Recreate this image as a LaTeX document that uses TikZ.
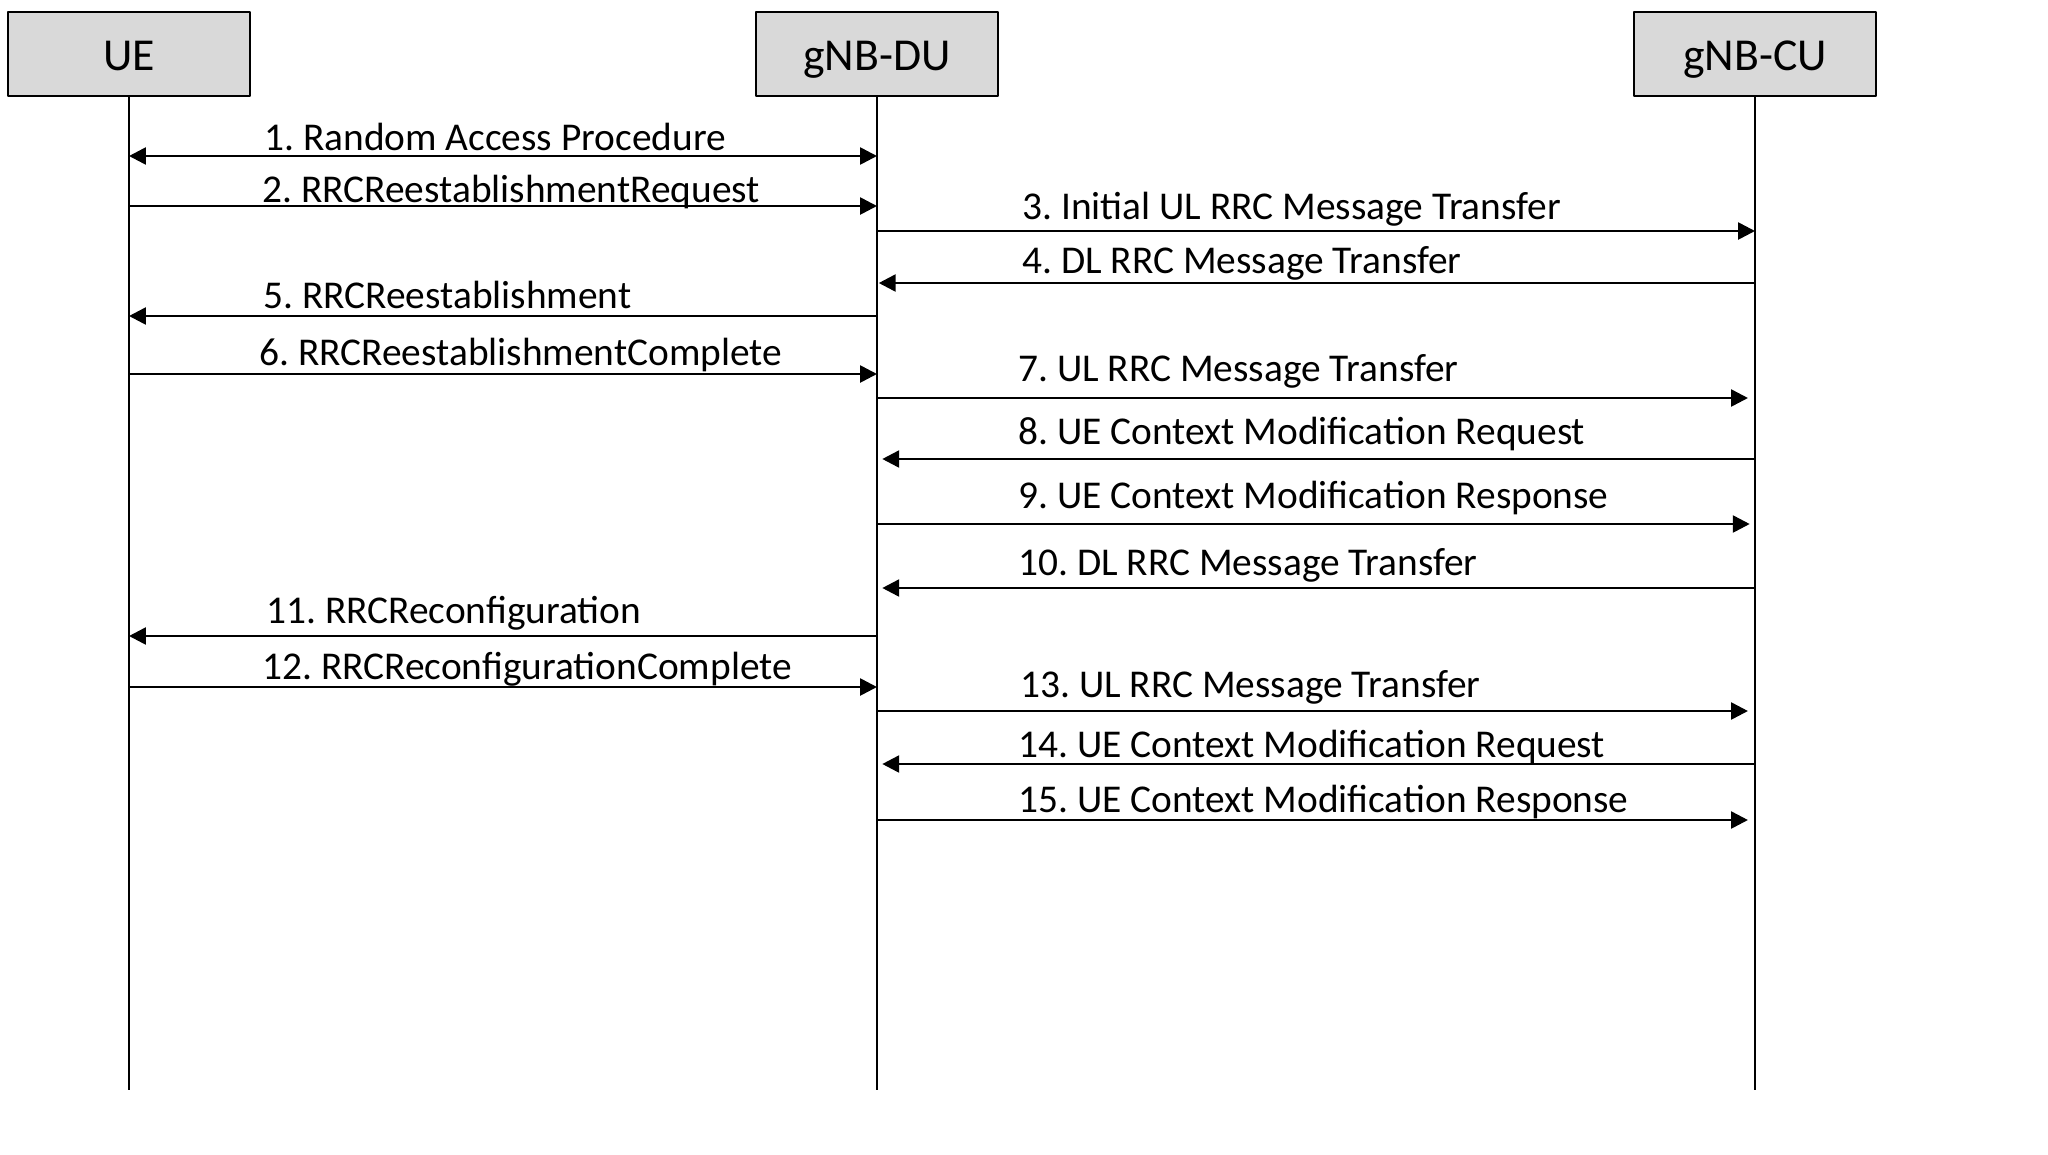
\documentclass[tikz,border=0pt]{standalone}
\usepackage{fontspec}
\setmainfont{Carlito}
\usetikzlibrary{arrows.meta}
\definecolor{boxgray}{HTML}{D9D9D9}
\frenchspacing
\begin{document}
\begin{tikzpicture}[x=0.01cm, y=-0.01cm, line width=0.75pt, font=\fontsize{11.2}{13}\selectfont, line join=round, >={Triangle[length=4.8pt,width=4.8pt]},
	box/.style={draw, line width=0.8pt, fill=boxgray, minimum width=2.42cm, minimum height=0.84cm, inner sep=0pt, text height=0.42cm, text depth=0.1cm, font=\fontsize{13}{15}\selectfont},
	lifeline/.style={line width=0.55pt},
	lbl/.style={anchor=base west, inner sep=0pt}]
	\useasboundingbox (0,0) rectangle (2048,1154);
	%% cac thuc the
	\node[box] (ue) at (129,54) {UE};
	\node[box] (du) at (877,54) {gNB-DU};
	\node[box] (cu) at (1755,54) {gNB-CU};
	
	%% duong song
	\foreach \p in {ue,du,cu}
	\draw[lifeline] (\p.south) -- (\p.south |- 0,1090) coordinate (\p-end);
	
	%% ban tin
	\draw[<->] (ue |- 0,156) -- (du |- 0,156);
	\node[lbl] (m1) at (263,150) {1. Random Access Procedure};
	\foreach \a/\b/\y/\lx/\ly/\s/\txt [count=\i from 2] in {
		ue/du/206/261/202/0pt/{2. RRCReestablishmentRequest},
		du/cu/231/1021/219/0pt/{3. Initial UL RRC Message Transfer},
		cu/du/283/1021/273/0.5pt/{4. DL RRC Message Transfer},
		du/ue/316/262/308/0pt/{5. RRCReestablishment},
		ue/du/374/258/365/0pt/{6. RRCReestablishmentComplete},
		du/cu/398/1017/381/2pt/{7. UL RRC Message Transfer},
		cu/du/459/1017/444/1.5pt/{8. UE Context Modification Request},
		du/cu/524/1017/508/1.5pt/{9. UE Context Modification Response},
		cu/du/588/1017/575/1.5pt/{10. DL RRC Message Transfer},
		du/ue/636/265/623/0pt/{11. RRCReconfiguration},
		ue/du/687/261/679/0pt/{12. RRCReconfigurationComplete},
		du/cu/711/1019/697/2pt/{13. UL RRC Message Transfer},
		cu/du/764/1017/757/1.5pt/{14. UE Context Modification Request},
		du/cu/820/1017/812/2pt/{15. UE Context Modification Response}}
	{
		\draw[->, shorten >=\s] (\a |- 0,\y) -- (\b |- 0,\y);
		\node[lbl] (m\i) at (\lx,\ly) {\txt};
	}
\end{tikzpicture}
\end{document}
